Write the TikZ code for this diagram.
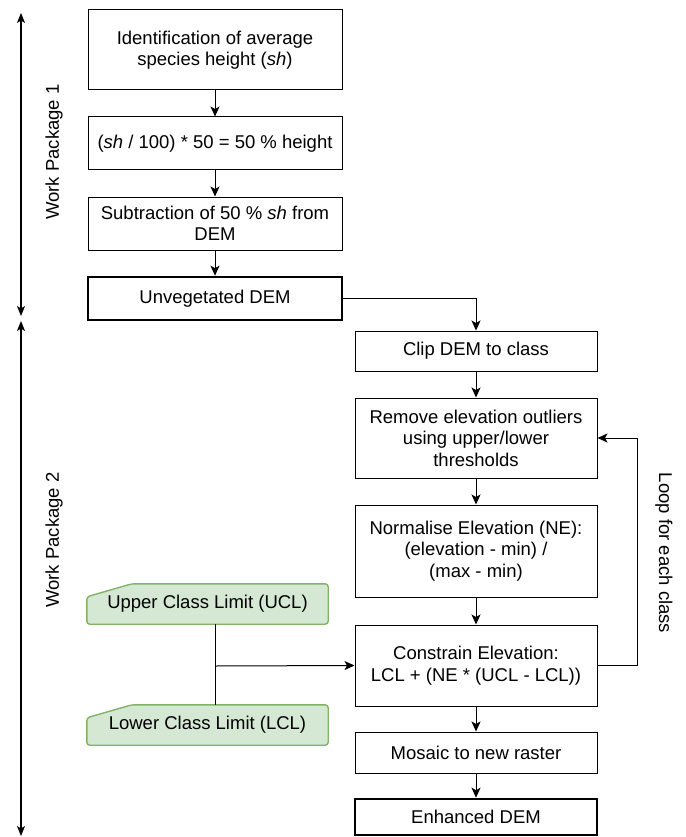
\documentclass[tikz,border=0pt]{standalone}
\usepackage{fontspec}
\setmainfont{Liberation Sans}
\usetikzlibrary{arrows.meta}
\pgfdeclarelayer{bg}
\pgfsetlayers{bg,main}
\begin{document}
\begin{tikzpicture}[x=1pt,y=-1pt,
  txt/.style={font=\fontsize{18.5}{21.5}\selectfont},
  box/.style={txt,draw,line width=1pt,align=center,inner sep=0pt,minimum width=254pt},
  rbox/.style={box,minimum width=242pt},
  heavy/.style={line width=2.6pt},
  gbox/.style={txt,inner sep=0pt,minimum width=241pt,minimum height=40pt},
  gshape/.style={line width=1.4pt,rounded corners=3pt},
  arr/.style={line width=1pt,-{Stealth[length=10pt,width=9pt,inset=2.5pt]}},
  ln/.style={line width=1pt},
  wp/.style={line width=1.1pt,{Stealth[length=10pt,width=8pt,inset=2.5pt]}-{Stealth[length=10pt,width=8pt,inset=2.5pt]}},
  lab/.style={font=\fontsize{18.5}{21}\selectfont}
]
\useasboundingbox (0,0) rectangle (685,837);
\definecolor{gfill}{HTML}{D5E8D4}
\definecolor{gline}{HTML}{82B366}

% left column
\node[box,minimum height=80pt] (b1) at (215,50) {Identification of average\\species height (\textit{sh})};
\node[box,minimum height=53pt] (b2) at (215,143.5) {(\textit{sh} / 100) * 50 = 50 \% height};
\node[box,minimum height=53pt] (b3) at (215,223.5) {Subtraction of 50 \% \textit{sh} from\\DEM};
\node[box,heavy,minimum height=43pt] (b4) at (215,298.5) {Unvegetated DEM};

% right column
\node[rbox,minimum height=40pt] (clip) at (476,351) {Clip DEM to class};
\node[rbox,minimum height=80pt] (rem) at (476,438) {Remove elevation outliers\\using upper/lower\\thresholds};
\node[rbox,minimum height=92pt] (norm) at (476,551) {Normalise Elevation (NE):\\(elevation - min) /\\(max - min)};
\node[rbox,minimum height=81pt] (con) at (476,665.5) {Constrain Elevation:\\LCL + (NE * (UCL - LCL))};
\node[rbox,minimum height=41pt] (mos) at (476,752.5) {Mosaic to new raster};
\node[rbox,heavy,minimum height=36pt] (enh) at (476,817) {Enhanced DEM};

% green inputs
\node[gbox] (ucl) at (207.5,604) {\raisebox{-2pt}{Upper Class Limit (UCL)}};
\node[gbox] (lcl) at (207.5,725) {\raisebox{-2pt}{Lower Class Limit (LCL)}};
\begin{pgfonlayer}{bg}
\foreach \n in {ucl,lcl}{
  \draw[gshape,draw=gline,fill=gfill] (\n.south west) -- (\n.south east) -- (\n.north east)
    -- ([xshift=45pt]\n.north west) -- ([yshift=-13pt]\n.north west) -- cycle;
}
\end{pgfonlayer}

% connectors
\draw[arr] (b1) -- (b2);
\draw[arr] (b2) -- (b3);
\draw[arr] (b3) -- (b4);
\draw[arr] (b4.east) -| (clip.north);
\draw[arr] (clip) -- (rem);
\draw[arr] (rem) -- (norm);
\draw[arr] (norm) -- (con);
\draw[arr] (con) -- (mos);
\draw[arr] (mos) -- (enh);
\draw[arr] (con.east) -- ++(40,0) |- (rem.east);
\coordinate (j) at (215,666);
\draw[ln] (ucl.south -| j) -- (lcl.north -| j);
\draw[arr] (j) -- (con.west);

% loop label
\node[lab,rotate=-90] (loop) at (664,553) {Loop for each class};

% work packages
\coordinate (w1a) at (21,13);
\coordinate (w1b) at (21,316);
\coordinate (w2a) at (21,321);
\coordinate (w2b) at (21,836);
\draw[wp] (w1a) -- (w1b);
\draw[wp] (w2a) -- (w2b);
\node[lab,rotate=90] (wp1) at (54,152) {Work Package 1};
\node[lab,rotate=90] (wp2) at (54,540) {Work Package 2};
\end{tikzpicture}
\end{document}
